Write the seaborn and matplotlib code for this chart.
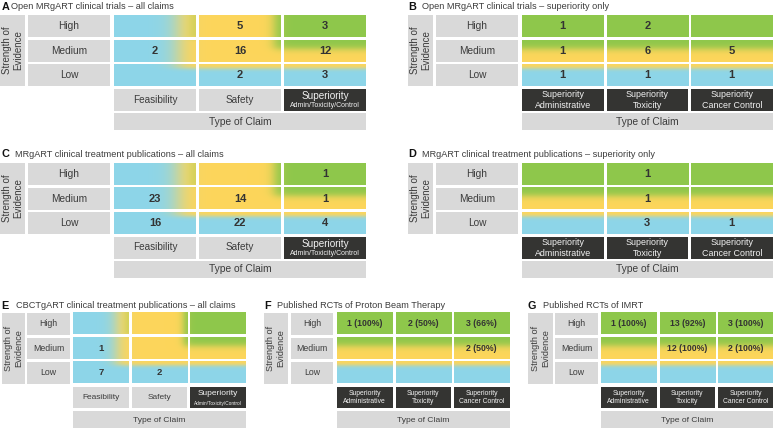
import numpy as np
import pandas as pd
import matplotlib
matplotlib.use("Agg")
import matplotlib.pyplot as plt
import seaborn as sns
from matplotlib.colors import ListedColormap, to_rgb
from matplotlib.patches import Rectangle

nan = np.nan

# ---------------- data ----------------
evidence_levels = ["High", "Medium", "Low"]
claims_all = ["Feasibility", "Safety", "Superiority"]
claims_all_sub = ["", "", "Admin/Toxicity/Control"]
claims_sup = ["Superiority\nAdministrative", "Superiority\nToxicity", "Superiority\nCancer Control"]

title_A = "Open MRgART clinical trials \u2013 all claims"
title_B = "Open MRgART clinical trials \u2013 superiority only"
title_C = "MRgART clinical treatment publications \u2013 all claims"
title_D = "MRgART clinical treatment publications \u2013 superiority only"
title_E = "CBCTgART clinical treatment publications \u2013 all claims"
title_F = "Published RCTs of Proton Beam Therapy"
title_G = "Published RCTs of IMRT"

counts_A = [[nan, 5, 3], [2, 16, 12], [nan, 2, 3]]
counts_B = [[1, 2, nan], [1, 6, 5], [1, 1, 1]]
counts_C = [[nan, nan, 1], [23, 14, 1], [16, 22, 4]]
counts_D = [[nan, 1, nan], [nan, 1, nan], [nan, 3, 1]]
counts_E = [[nan, nan, nan], [1, nan, nan], [7, 2, nan]]
counts_F = [[1, 2, 3], [nan, nan, 2], [nan, nan, nan]]
pct_F = [[100, 50, 66], [nan, nan, 50], [nan, nan, nan]]
counts_G = [[1, 13, 3], [nan, 12, 2], [nan, nan, nan]]
pct_G = [[100, 92, 100], [nan, 100, 100], [nan, nan, nan]]

# ---------------- style ----------------
W, H = 773, 428
sns.set_theme(style="white")
plt.rcParams["font.family"] = ["Liberation Sans", "DejaVu Sans"]

BLUE = np.array(to_rgb("#8dd5e9"))
YELLOW = np.array(to_rgb("#fdd65b"))
GREEN = np.array(to_rgb("#8ec74b"))
GRAY = "#d9d9d9"
DARK = "#343432"
TXT = "#3c3c3c"
LIGHT = "#f2f2f2"

fig = plt.figure(figsize=(W / 100, H / 100), dpi=100)


def sig(z):
    return 1.0 / (1.0 + np.exp(-z))


def field(u, v, sup_only):
    if sup_only:
        u = np.full_like(u, 2.5)
    nb = sig((u - 0.78) / 0.075) * sig((v - 0.80) / 0.05)
    g = sig((u - 1.92) / 0.04) * sig((v - 1.60) / 0.09)
    g = g + 0.35 * sig((u - 0.93) / 0.03) * sig((v - 2.0) / 0.03) * (u < 1)
    c = BLUE * (1 - nb)[..., None] + YELLOW * nb[..., None]
    g = np.clip(g, 0, 1)
    c = c * (1 - g)[..., None] + GREEN * g[..., None]
    return np.clip(c, 0, 1)


def panel(letter, title, counts, col_labels, sup_only, L, pct=None, small=False):
    ax = fig.add_axes([0, 0, 1, 1])
    ax.patch.set_alpha(0)
    c0, pxp, cw = L["c0"], L["px"], L["cw"]
    r0, pyp, ch = L["r0"], L["py"], L["ch"]
    gx = (pxp - cw) / pxp
    gy = (pyp - ch) / pyp

    def X(p):
        return (p - c0) / pxp + gx / 2

    def Y(p):
        return (p - r0) / pyp + gy / 2

    fs_num = 6.3 if small else 8
    fs_row = 6.3 if small else 7.3
    fs_str = 6.6 if small else 7.0
    fs_col = 6.0 if small else 7.2
    fs_col2 = 4.9 if small else 6.4
    fs_sub = 3.4 if small else 5.0
    fs_type = 6.1 if small else 7.4
    if small and pct is None:
        fs_num = 6.8

    df = pd.DataFrame(counts, index=evidence_levels,
                      columns=[c.replace("\n", " ") for c in col_labels])
    if pct is None:
        annot, fmt = True, ".0f"
    else:
        annot = np.array([["" if np.isnan(n) else f"{int(n)} ({int(p)}%)"
                           for n, p in zip(rn, rp)] for rn, rp in zip(counts, pct)])
        fmt = ""
    sns.heatmap(df, annot=annot, fmt=fmt, cmap=ListedColormap([(1, 1, 1, 0)]),
                cbar=False, ax=ax, linewidths=0,
                annot_kws=dict(color="#333333", fontweight="bold", fontsize=fs_num))

    # gradient cell backgrounds
    nx, ny = 80, 40
    for i in range(3):
        for j in range(3):
            u = j + (np.arange(nx) + 0.5) / nx
            v = (3 - i) - (np.arange(ny) + 0.5) / ny
            U, V = np.meshgrid(u, v)
            img = field(U, V, sup_only)
            ax.imshow(img, extent=(j + gx / 2, j + 1 - gx / 2, i + 1 - gy / 2, i + gy / 2),
                      origin="upper", aspect="auto", interpolation="bilinear", zorder=0)

    def rect(xl, yt, xr, yb, color):
        ax.add_patch(Rectangle((X(xl), Y(yt)), X(xr) - X(xl), Y(yb) - Y(yt),
                               facecolor=color, edgecolor="none", zorder=0, clip_on=False))

    # strength of evidence box
    sbl, sbr = L["sb"]
    rect(sbl, r0, sbr, r0 + 2 * pyp + ch, GRAY)
    ax.text(X((sbl + sbr) / 2), Y(r0 + (2 * pyp + ch) / 2), "Strength of\nEvidence",
            rotation=90, ha="center", va="center", fontsize=fs_str, color=TXT,
            linespacing=1.15)

    # row labels
    rll, rlr = L["rl"]
    for i, lab in enumerate(evidence_levels):
        yt = r0 + i * pyp
        rect(rll, yt, rlr, yt + ch, GRAY)
        ax.text(X((rll + rlr) / 2), Y(yt + ch / 2), lab, ha="center", va="center",
                fontsize=fs_row, color=TXT)

    # column labels
    yt = r0 + 3 * pyp
    for j, lab in enumerate(col_labels):
        xl = c0 + j * pxp
        xm = X(xl + cw / 2)
        if sup_only:
            rect(xl, yt, xl + cw, yt + ch, DARK)
            ax.text(xm, Y(yt + ch / 2 + 0.3), lab, ha="center", va="center",
                    fontsize=fs_col2, color=LIGHT, linespacing=1.2)
        elif claims_all_sub[j]:
            rect(xl, yt, xl + cw, yt + ch, DARK)
            ax.text(xm, Y(yt + ch * 0.34), lab, ha="center", va="center",
                    fontsize=fs_col, color=LIGHT)
            ax.text(xm, Y(yt + ch * 0.78), claims_all_sub[j], ha="center", va="center",
                    fontsize=fs_sub, color=LIGHT)
        else:
            rect(xl, yt, xl + cw, yt + ch, GRAY)
            ax.text(xm, Y(yt + ch / 2), lab, ha="center", va="center",
                    fontsize=fs_col, color=TXT)

    # type of claim
    yt = r0 + 4 * pyp
    rect(c0, yt, c0 + 2 * pxp + cw, yt + L["th"], GRAY)
    ax.text(X(c0 + pxp + cw / 2), Y(yt + L["tc"]), "Type of Claim", ha="center",
            va="center", fontsize=fs_type, color=TXT)

    # title
    lx, tx, ty = L["title"]
    ax.text(X(lx), Y(ty), letter, ha="left", va="center", fontsize=7.8,
            fontweight="bold", color="#111111")
    ax.text(X(tx), Y(ty), title, ha="left", va="center", fontsize=6.6, color=TXT)

    ax.set_xlim(X(0), X(W))
    ax.set_ylim(Y(H), Y(0))
    ax.axis("off")


top_left = dict(sb=(0, 25), rl=(28, 110), c0=114, px=85, cw=82, py=24.5, ch=22, th=17, tc=8.5)
top_right = dict(sb=(408, 433), rl=(436, 518), c0=522, px=84.5, cw=81.5, py=24.5, ch=22, th=17, tc=8.5)
bottom = dict(py=24.5, ch=21.5, th=19, tc=9, r0=313, cw=55.5, px=58.5)

panel("A", title_A, counts_A, claims_all, False, dict(top_left, r0=15, title=(2, 11, 6.5)))
panel("B", title_B, counts_B, claims_sup, True, dict(top_right, r0=15, title=(408, 422, 6.5)))
panel("C", title_C, counts_C, claims_all, False, dict(top_left, r0=163, title=(1.5, 15, 154.3)))
panel("D", title_D, counts_D, claims_sup, True, dict(top_right, r0=163, title=(408, 422, 154.3)))
panel("E", title_E, counts_E, claims_all, False,
      dict(bottom, sb=(2, 25), rl=(27, 70), c0=73, title=(1.5, 16, 305.7)), small=True)
panel("F", title_F, counts_F, claims_sup, True,
      dict(bottom, sb=(264, 288), rl=(291, 333), c0=337, title=(264, 277, 305.7)),
      pct=pct_F, small=True)
panel("G", title_G, counts_G, claims_sup, True,
      dict(bottom, sb=(528, 553), rl=(555, 598), c0=601, title=(528, 543, 305.7)),
      pct=pct_G, small=True)

fig.savefig("out.png", dpi=100, facecolor="white")
